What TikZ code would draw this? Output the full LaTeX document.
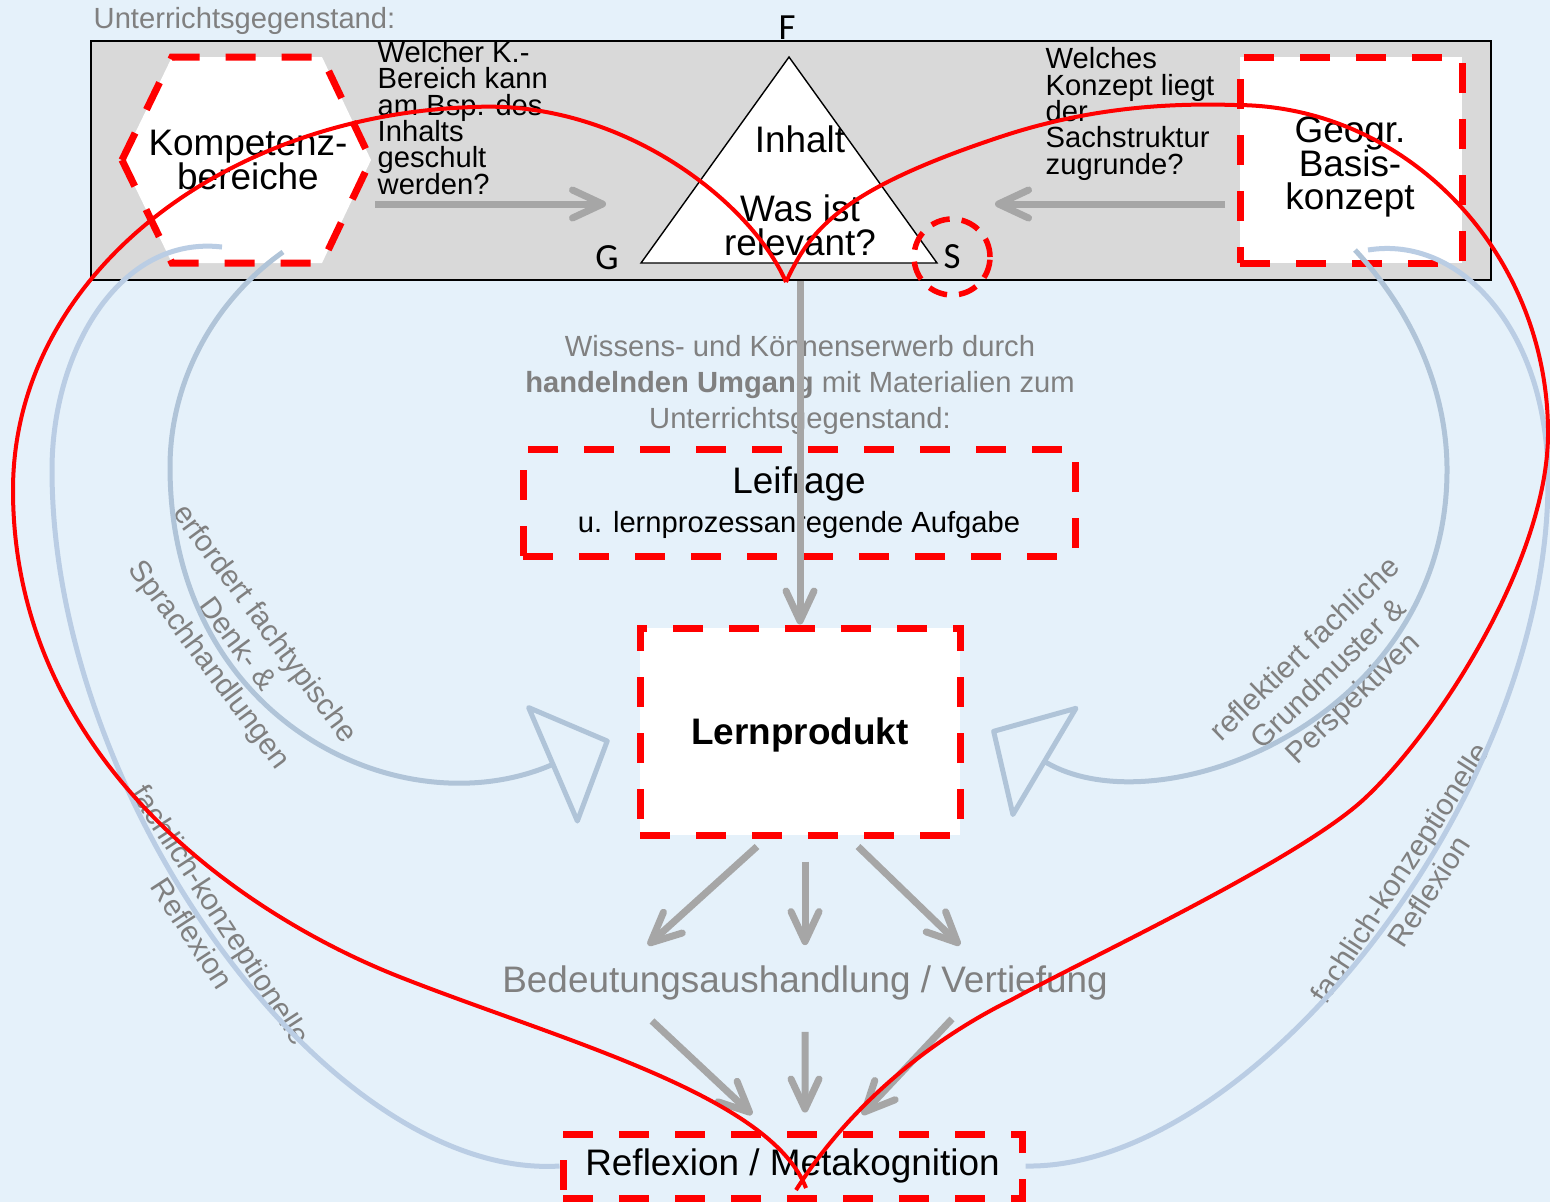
\documentclass[tikz,border=0pt]{standalone}
\usepackage{fontspec}
\setmainfont{Liberation Sans}
\newfontfamily\calib{Carlito}
\usetikzlibrary{arrows.meta,calc}
\definecolor{bgblue}{RGB}{229,241,250}
\definecolor{boxgray}{RGB}{217,217,217}
\definecolor{txtgray}{RGB}{128,128,128}
\definecolor{arrgray}{RGB}{166,166,166}
\definecolor{arcblue}{RGB}{176,196,216}
\definecolor{arclight}{RGB}{186,205,228}
\newcommand\bigf{\fontsize{10.5}{9.6}\selectfont\lineskiplimit=-\maxdimen}
\newcommand\smf{\fontsize{8.3}{7.5}\selectfont\lineskiplimit=-\maxdimen}
\newcommand\midf{\fontsize{8.3}{10.2}\selectfont}
\newcommand\rotf{\fontsize{8.5}{9.8}\selectfont}
\newcommand\lblf{\calib\fontsize{10.5}{12}\selectfont}

\begin{document}
\begin{tikzpicture}[x=0.1mm,y=-0.1mm,
  rbox/.style={draw=red,line width=0.7mm,dash pattern=on 3mm off 2.6mm},
  gtxt/.style={text=txtgray,inner sep=0pt},
  garr/.style={draw=arrgray,line width=0.7mm,-{Straight Barb[round,length=3mm,width=2.8mm]}},
  barc/.style={draw=arcblue,line width=0.5mm},
  hol/.style={-{Triangle[open,round,length=6.5mm,width=13.5mm]}},
  rline/.style={draw=red,line width=0.4mm,line join=round}]
\useasboundingbox (0,0) rectangle (1550,1202);
\fill[bgblue] (0,0) rectangle (1550,1202);

\node[draw,fill=boxgray,line width=0.6pt,minimum width=14cm,minimum height=2.39cm,inner sep=0] (ug) at (791,160.5) {};
\node[gtxt,font=\smf,anchor=base west] (ugt) at (93,28) {Unterrichtsgegenstand:};

\draw[rbox,fill=white] (122,160) -- (172,57) -- (322,57) -- (371,160) -- (322,263) -- (172,263) -- cycle;
\node[font=\bigf,align=center,inner sep=0] (komp) at (248,160) {Kompetenz-\\bereiche};
\node[font=\smf,align=left,anchor=west,inner sep=0] (q1) at (377,118) {Welcher K.-\\Bereich kann\\am Bsp. des\\Inhalts\\geschult\\werden?};

\draw[fill=white,line width=0.4pt] (789,57) -- (937,263) -- (641,263) -- cycle;
\node[font=\bigf,inner sep=0] (inh) at (800,139) {Inhalt};
\node[font=\bigf,align=center,inner sep=0] (rel) at (800,225) {Was ist\\relevant?};
\node[font=\lblf,inner sep=0] (f) at (787,28) {F};
\node[font=\lblf,inner sep=0] (g) at (607,258) {G};
\node[circle,draw=red,line width=0.55mm,dash pattern=on 1.9mm off 1.2mm,minimum size=0.76cm,inner sep=0,font=\lblf] (s) at (952,257) {S};

\node[font=\smf,align=left,anchor=west,inner sep=0] (q2) at (1045,114) {Welches\\Konzept liegt\\der\\Sachstruktur\\zugrunde?};
\node[rbox,fill=white,minimum width=2.22cm,minimum height=2.06cm,inner sep=0] (geo) at (1351,160) {};
\node[font=\bigf,align=center,inner sep=0] (geot) at (1350,167) {Geogr.\\Basis-\\konzept};

\coordinate (hk) at (375,204);
\coordinate (tg) at (606,204);
\coordinate (gk) at (1225,204);
\coordinate (ts) at (995,204);
\draw[garr] (hk) -- (tg);
\draw[garr] (gk) -- (ts);

\node[gtxt,font=\midf,align=center] (wis) at (800,385) {Wissens- und Könnenserwerb durch\\\textbf{handelnden Umgang} mit Materialien zum\\Unterrichtsgegenstand:};
\node[rbox,minimum width=5.52cm,minimum height=1.07cm,align=center,font=\bigf,inner sep=0] (leif) at (799,502.5) {Leifrage\\[1.5pt]{\smf u. lernprozessanregende Aufgabe}};
\node[rbox,fill=white,minimum width=3.2cm,minimum height=2.07cm,inner sep=0] (lern) at (800,731.5) {};
\node[font=\bigf\bfseries,inner sep=0] (lernt) at (800,735) {Lernprodukt};
\node[gtxt,font=\bigf] (bed) at (805,983) {Bedeutungsaushandlung / Vertiefung};
\node[rbox,minimum width=4.59cm,minimum height=0.64cm,font=\bigf,inner sep=0] (refl) at (792.5,1166) {Reflexion / Metakognition};

\node[gtxt,font=\rotf,align=center,rotate=-53.5] (l1) at (236,645) {erfordert fachtypische\\Denk- \&\\Sprachhandlungen};
\node[gtxt,font=\rotf,align=center,rotate=44] (r1) at (1330,675) {reflektiert fachliche\\Grundmuster \&\\Perspektiven};
\node[gtxt,font=\rotf,align=center,rotate=-57] (l2) at (207,924) {fachlich-konzeptionelle\\Reflexion};
\node[gtxt,font=\rotf,align=center,rotate=57] (r2) at (1414,882) {fachlich-konzeptionelle\\Reflexion};

\coordinate (ka) at (283,252);
\coordinate (kb) at (222,247);
\coordinate (ga) at (1355,250);
\coordinate (gb) at (1368,250);
\draw[barc,hol] (ka) .. controls (215,300) and (170,380) .. (170,467) .. controls (170,720) and (400,830) .. ($(lern.west)+(-27,8.5)$);
\draw[barc,hol] (ga) .. controls (1420,320) and (1447,400) .. (1447,470) .. controls (1447,720) and (1160,830) .. ($(lern.east)+(28,-1.5)$);
\draw[barc,draw=arclight] (kb) .. controls (120,235) and (52,350) .. (52,470) .. controls (52,800) and (330,1180) .. (refl.west);
\draw[barc,draw=arclight] (gb) .. controls (1460,235) and (1548,330) .. (1548,480) .. controls (1548,800) and (1250,1170) .. (refl.east);

\draw[garr] (lern.north |- ug.south) -- (lern.north);
\draw[garr] ($(lern.south)+(-43,8)$) -- ($(bed.north)+(-157,-20)$);
\draw[garr] ($(lern.south)+(5,23)$) -- ($(bed.north)+(0,-20)$);
\draw[garr] ($(lern.south)+(58,8)$) -- ($(bed.north)+(155,-20)$);
\draw[garr] ($(bed.south)+(-153,20)$) -- ($(refl.north)+(-40.5,-16)$);
\draw[garr] ($(bed.south)+(0,31)$) -- ($(refl.north)+(12.5,-18)$);
\draw[garr] ($(bed.south)+(147,18)$) -- ($(refl.north)+(69.5,-16)$);

\draw[rline] (786,282) .. controls (750,200) and (620,100) .. (474,107) .. controls (220,115) and (13,279) .. (13,490) .. controls (13,750) and (230,910) .. (400,977) .. controls (560,1040) and (770,1095) .. (806,1188);
\draw[rline] (786,282) .. controls (810,230) and (840,190) .. (1000,137) .. controls (1090,107) and (1170,103) .. (1235,105) .. controls (1407,105) and (1548,253) .. (1548,433) .. controls (1548,560) and (1437,732) .. (1363,800) .. controls (1296,861) and (1090,957) .. (1011,1000) .. controls (930,1040) and (850,1105) .. (796,1190);
\end{tikzpicture}
\end{document}
